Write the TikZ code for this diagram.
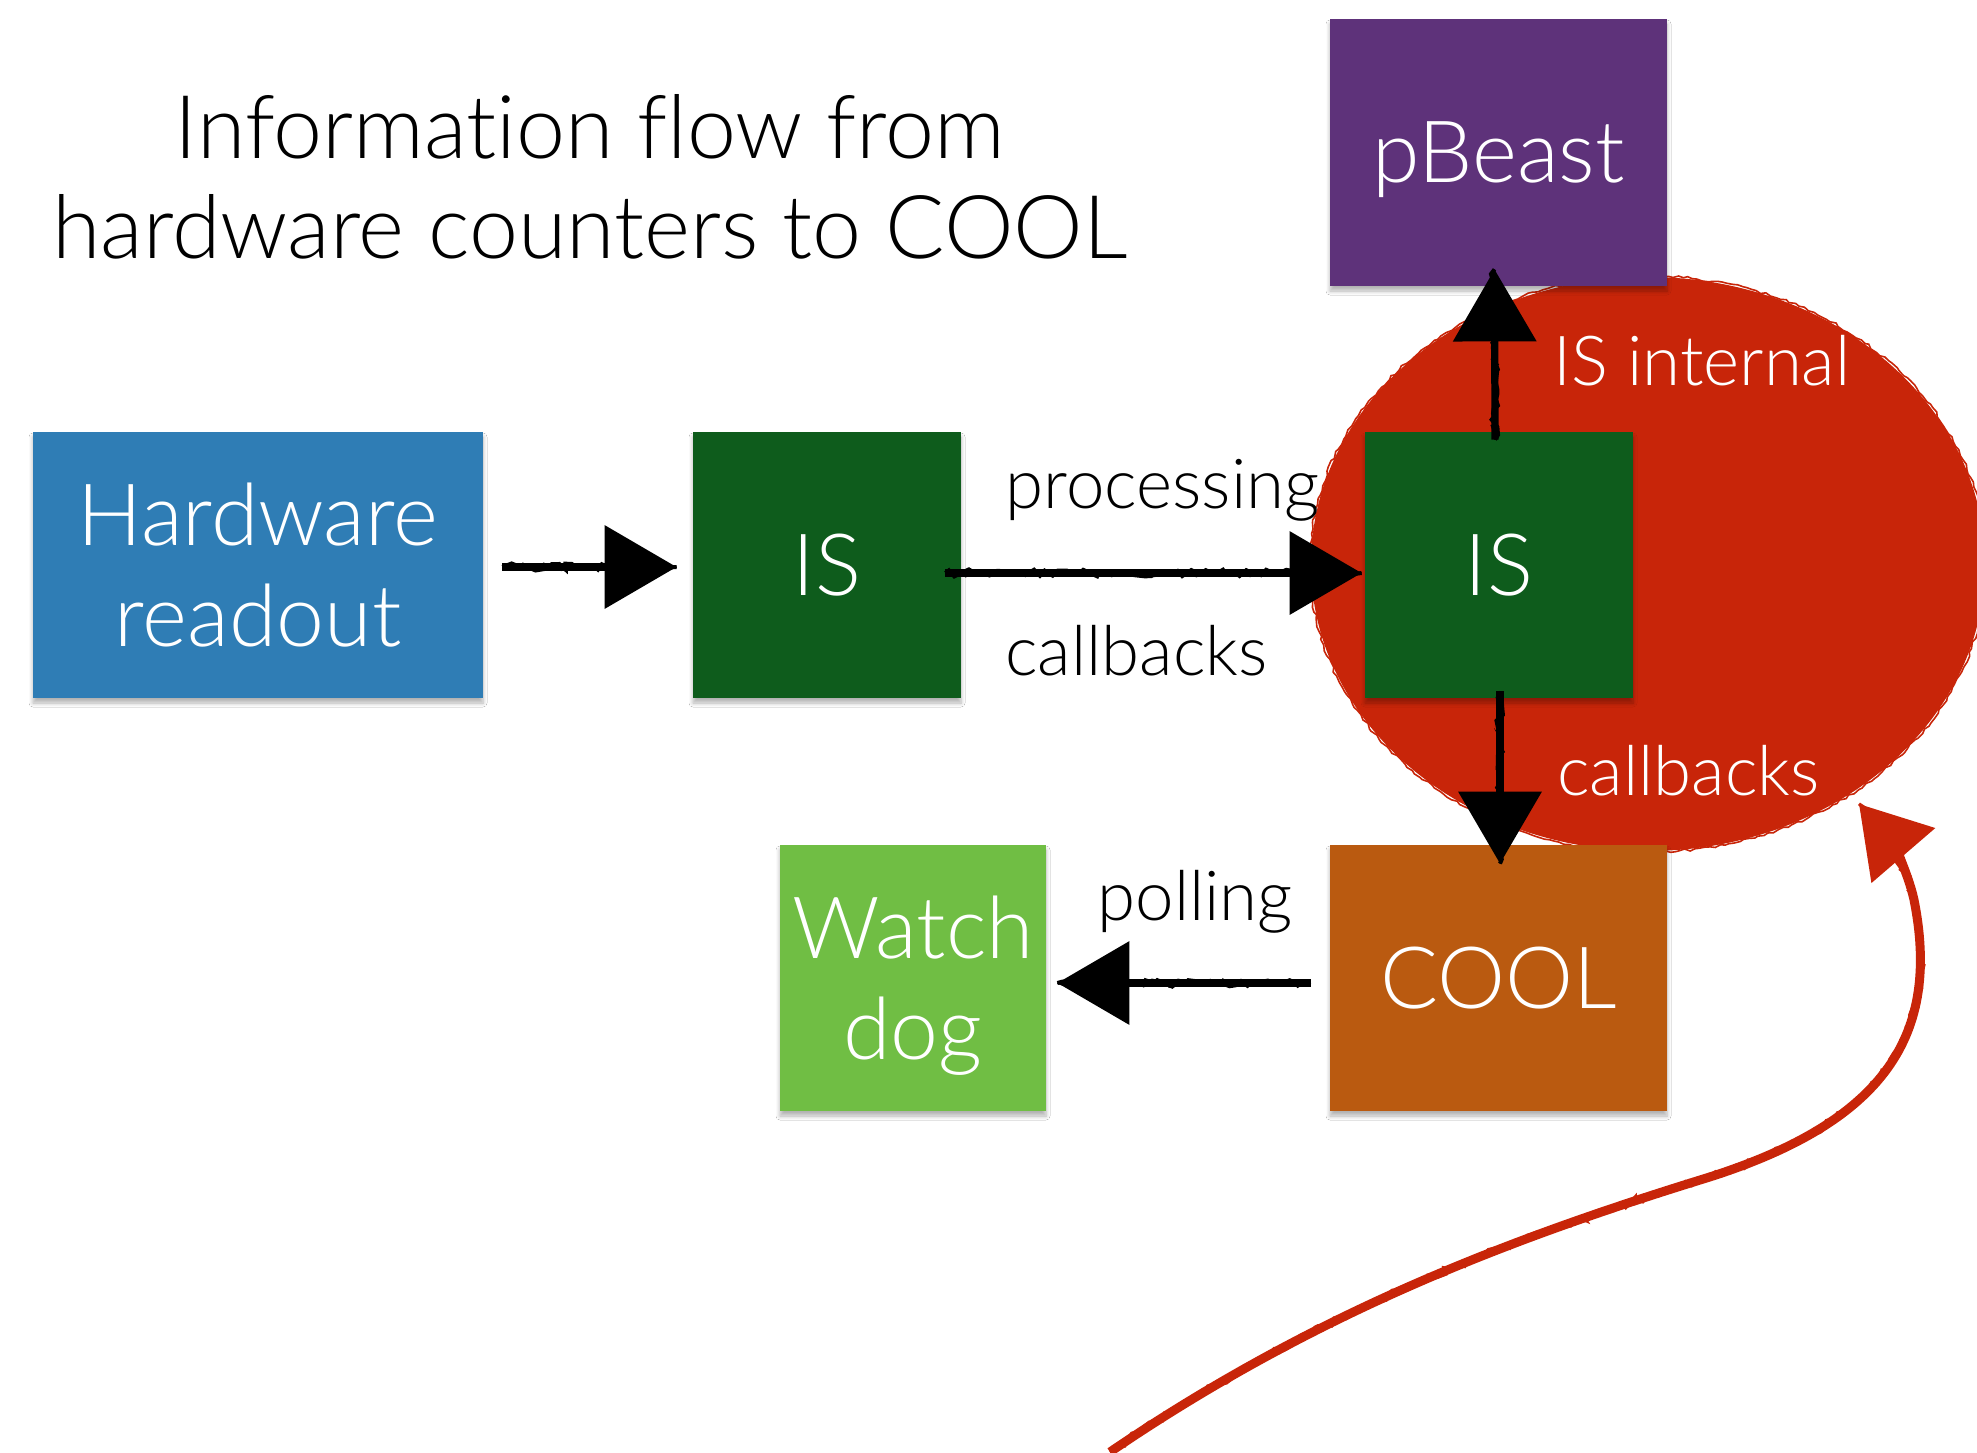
\documentclass[tikz,border=0pt]{standalone}
\usepackage{fontspec}
\IfFontExistsTF{Lato Light}{\setmainfont{Lato Light}[Ligatures={TeX,NoCommon}]}{\setmainfont{Lato}[Ligatures={TeX,NoCommon}]}
\usetikzlibrary{arrows.meta,calc,decorations.pathmorphing,shadows.blur,shapes.geometric}

\definecolor{hwblue}{RGB}{47,125,181}
\definecolor{isgreen}{RGB}{14,92,28}
\definecolor{beastpurple}{RGB}{94,50,122}
\definecolor{coolorange}{RGB}{186,90,16}
\definecolor{doggreen}{RGB}{112,190,68}
\definecolor{blobred}{RGB}{200,37,9}

\begin{document}
\begin{tikzpicture}[x=0.5pt,y=-0.5pt,
  box/.style={rectangle, inner sep=0pt, text=white, align=center, text depth=0pt,
    font=\fontsize{43pt}{50.5pt}\selectfont,
    blur shadow={shadow xshift=0pt, shadow yshift=-2.5pt, shadow opacity=30,
      shadow blur steps=6, shadow blur radius=2pt, shadow blur extra rounding=0pt}},
  lbl/.style={inner sep=0pt, anchor=base west, font=\fontsize{34.5pt}{40pt}\selectfont},
  rough/.style={decorate, decoration={random steps, segment length=3pt, amplitude=1.8pt}},
  fine rough/.style={decorate, decoration={random steps, segment length=2.5pt, amplitude=0.7pt}},
  sketch/.style={draw=black, line width=3.6pt,
    -{Triangle[length=36pt,width=41pt]},
    postaction={draw, -, line width=2pt, rough},
    postaction={draw, -, line width=1pt, rough}},
  redsketch/.style={draw=blobred, line width=4.5pt,
    -{Triangle[length=34pt,width=41pt]},
    postaction={draw, -, line width=1.6pt, rough},
    postaction={draw, -, line width=0.8pt, rough}},
  blob/.style={ellipse, fill=blobred, inner sep=0pt,
    minimum width=337pt, minimum height=287pt},
]
\useasboundingbox (0,0) rectangle (1977,1452);
\fill[white] (0,0) rectangle (1977,1452);
\clip (0,0) rectangle (1977,1452);

% red blob behind the second IS server
\node[blob] (blob) at (1648,564) {};
\draw[blobred, line width=0.8pt, fine rough] (1648,564) ellipse [x radius=338, y radius=288];

% title
\node[inner sep=0pt, align=center, anchor=base,
  font=\fontsize{44pt}{50pt}\selectfont] (title) at (590,258)
  {Information flow from\\hardware counters to COOL};

% boxes
\node[box, fill=hwblue, minimum width=225pt, minimum height=133pt] (hw) at (258,565) {Hardware\\readout};
\node[box, fill=isgreen, minimum width=134pt, minimum height=133pt] (is1) at (827,565) {IS};
\node[box, fill=isgreen, minimum width=134pt, minimum height=133pt] (is2) at (1499,565) {IS};
\node[box, fill=beastpurple, minimum width=168.5pt, minimum height=133.5pt] (pbeast) at (1498.5,152.5) {pBeast};
\node[box, fill=coolorange, minimum width=168.5pt, minimum height=133pt] (cool) at (1498.5,978) {COOL};
\node[box, fill=doggreen, minimum width=133pt, minimum height=133pt] (watch) at (913,978) {Watch\\dog};

% connectors
\draw[sketch] ($(hw.east)+(19,2)$) -- ($(is1.west)+(-16,2)$);
\draw[sketch] ($(is1.east)+(-16,8)$) -- ($(is2.west)+(-3,8)$);
\draw[sketch] ($(is2.north)+(-4,8)$) -- ($(pbeast.south)+(-4,-17)$);
\draw[sketch] ($(is2.south)+(1,-7)$) -- ($(cool.north)+(1.5,19)$);
\draw[sketch] ($(cool.west)+(-19,5)$) -- ($(watch.east)+(11,5)$);

% connector labels
\node[lbl] (lproc) at (1005,508) {processing};
\node[lbl] (lcb1) at (1005,675) {callbacks};
\node[lbl, text=white] (lint) at (1553,385) {IS internal};
\node[lbl, text=white] (lcb2) at (1557,795) {callbacks};
\node[lbl] (lpoll) at (1097,920) {polling};

% red curved arrow pointing at the blob
\coordinate (tailstart) at (1110,1452);
\coordinate (tailtip) at (1859,804);
\draw[redsketch] (tailstart) .. controls (1310,1316) and (1500,1242) .. (1700,1180)
  .. controls (1880,1125) and (1940,1040) .. (1915,905)
  .. controls (1910,875) and (1890,840) .. (tailtip);
\end{tikzpicture}
\end{document}
